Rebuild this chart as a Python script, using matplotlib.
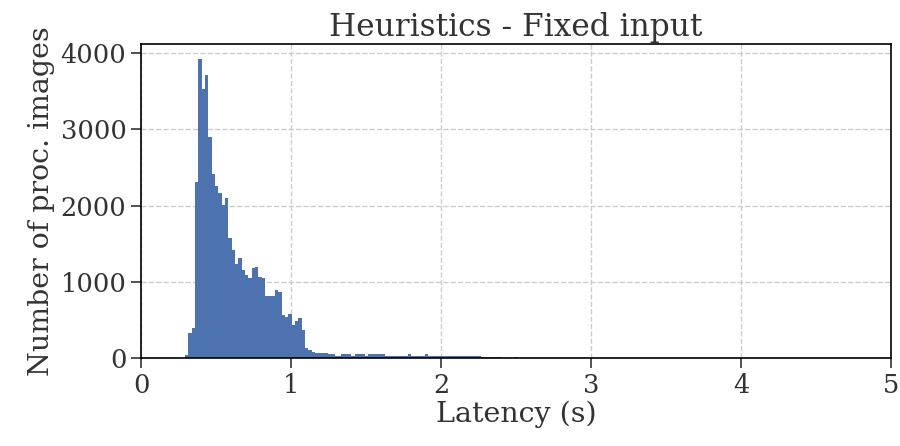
import numpy as np
import matplotlib
matplotlib.use('Agg')
import matplotlib.pyplot as plt

# Histogram counts of per-image latency (100 bins starting at 0.293 s)
bin_start = 0.293
bin_width = 0.0222
counts = [
    40, 328, 393, 2305, 3919, 3530, 3704, 2896, 2415, 2262,
    2160, 2007, 2097, 1573, 1419, 1240, 1311, 1157, 1092, 1048,
    1180, 1201, 1068, 1050, 817, 817, 817, 895, 873, 567,
    545, 575, 440, 495, 530, 371, 135, 115, 87, 75,
    73, 73, 73, 52, 52, 30, 30, 52, 52, 52,
    30, 52, 52, 52, 30, 52, 52, 52, 52, 52,
    30, 30, 25, 25, 25, 25, 25, 50, 25, 25,
    25, 25, 50, 25, 25, 25, 25, 25, 25, 25,
    25, 25, 25, 25, 25, 25, 25, 25, 25, 18,
    18, 18, 18, 18, 18, 0, 0, 0, 0, 15,
]
xticks = [0, 1, 2, 3, 4, 5]
yticks = [0, 1000, 2000, 3000, 4000]

counts = np.array(counts)
edges = bin_start + bin_width * np.arange(len(counts) + 1)
centers = (edges[:-1] + edges[1:]) / 2

plt.rcParams['font.family'] = 'DejaVu Serif'

fig = plt.figure(figsize=(9, 4.46), dpi=100)
ax = fig.add_axes([0.1567, 0.1966, 0.8333, 0.7047])

ax.hist(centers, bins=edges, weights=counts, histtype='stepfilled',
        color='#4c72b0', zorder=2)

ax.set_xlim(0, 5)
ax.set_ylim(0, counts.max() * 1.05)
ax.set_xticks(xticks)
ax.set_yticks(yticks)
ax.grid(True, linestyle='--', color='#cccccc', linewidth=1, zorder=0)
ax.set_axisbelow(True)

for s in ax.spines.values():
    s.set_linewidth(1.2)
    s.set_color('black')
ax.tick_params(axis='both', labelsize=18.5, length=7, width=1.2,
               colors='#333333', labelcolor='#333333')

ax.set_title('Heuristics - Fixed input', fontsize=22.5, color='#333333')
ax.set_xlabel('Latency (s)', fontsize=20.5, color='#333333', labelpad=2)
ax.set_ylabel('Number of proc. images', fontsize=20.5, color='#333333',
              labelpad=4)

fig.savefig('out.png', dpi=100)
